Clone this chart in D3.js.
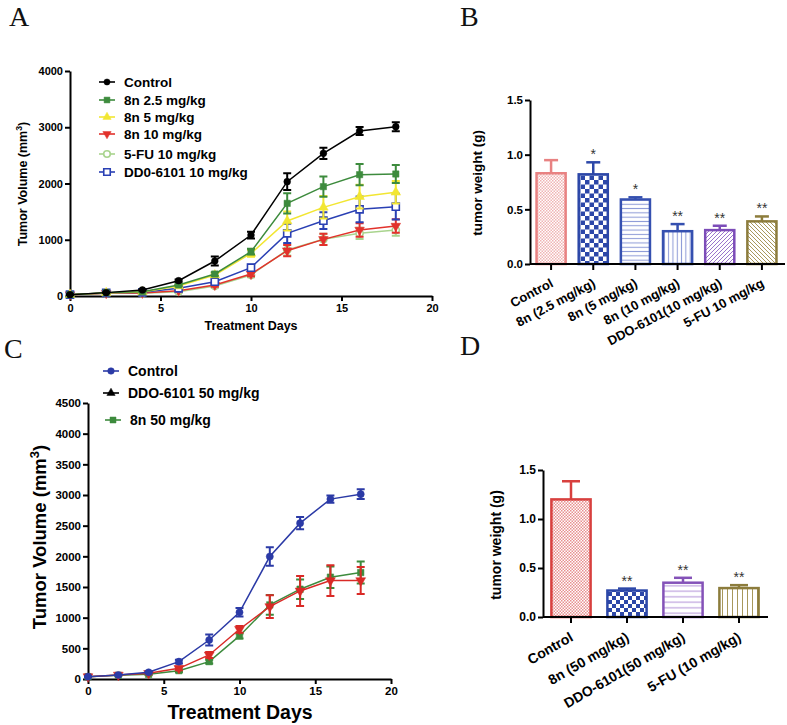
<!DOCTYPE html>
<html>
<head>
<meta charset="utf-8">
<script src="https://cdnjs.cloudflare.com/ajax/libs/d3/7.8.5/d3.min.js"></script>
<style>
  body { margin: 0; background: #fff; }
</style>
</head>
<body>
<div id="plot"></div>
<script>
var FONT = "Arial, 'Liberation Sans', Helvetica, sans-serif";
var SERIF = "'Times New Roman', 'Liberation Serif', serif";

// ---- data ----
var days = [0, 2, 4, 6, 8, 10, 12, 14, 16, 18];

// panel A : tumor volume
var aNames = ["Control", "8n 2.5 mg/kg", "8n 5 mg/kg", "8n 10 mg/kg", "5-FU 10 mg/kg", "DD0-6101 10 mg/kg"];
var aControl    = [24, 60, 107, 272, 622, 1084, 2033, 2536, 2933, 3010];
var aControlErr = [5, 5, 10, 20, 80, 60, 150, 100, 70, 80];
var a8n25       = [24, 60, 77, 196, 391, 788, 1647, 1944, 2157, 2169];
var a8n25Err    = [5, 5, 10, 20, 30, 50, 180, 180, 190, 160];
var a8n5        = [24, 55, 70, 178, 373, 758, 1333, 1576, 1766, 1843];
var a8n5Err     = [5, 5, 10, 20, 30, 60, 170, 200, 210, 200];
var a8n10       = [24, 50, 55, 95, 196, 391, 806, 1007, 1173, 1244];
var a8n10Err    = [5, 5, 10, 15, 30, 40, 100, 100, 120, 120];
var a5fu        = [24, 47, 47, 77, 178, 373, 818, 1007, 1114, 1173];
var a5fuErr     = [5, 5, 10, 15, 30, 40, 100, 100, 100, 100];
var aDdo        = [24, 55, 65, 136, 255, 504, 1114, 1339, 1541, 1588];
var aDdoErr     = [5, 5, 10, 20, 40, 50, 170, 150, 230, 230];

// panel B : tumor weight
var bNames = ["Control", "8n (2.5 mg/kg)", "8n (5 mg/kg)", "8n (10 mg/kg)", "DDO-6101(10 mg/kg)", "5-FU 10 mg/kg"];
var bWeight = [0.83, 0.82, 0.59, 0.30, 0.31, 0.39];
var bErr    = [0.12, 0.11, 0.02, 0.065, 0.04, 0.045];
var bStars  = ["", "*", "*", "**", "**", "**"];

// panel C : tumor volume
var cNames = ["Control", "DDO-6101 50 mg/kg", "8n 50 mg/kg"];
var cControl    = [38, 65, 109, 283, 636, 1088, 1997, 2541, 2933, 3014];
var cControlErr = [5, 5, 15, 30, 90, 70, 150, 100, 60, 80];
var cDdo        = [38, 65, 92, 174, 392, 811, 1181, 1436, 1605, 1605];
var cDdoErr     = [5, 5, 15, 30, 50, 55, 185, 245, 250, 220];
var c8n         = [38, 60, 76, 136, 283, 702, 1208, 1464, 1660, 1736];
var c8nErr      = [5, 5, 10, 20, 30, 40, 160, 160, 175, 180];

// panel D : tumor weight
var dNames = ["Control", "8n (50 mg/kg)", "DDO-6101(50 mg/kg)", "5-FU (10 mg/kg)"];
var dWeight = [1.20, 0.27, 0.35, 0.295];
var dErr    = [0.185, 0.02, 0.05, 0.03];
var dStars  = ["", "**", "**", "**"];

// ---- svg ----
var svg = d3.select("#plot").append("svg")
    .attr("width", 787).attr("height", 725)
    .style("font-family", FONT);

var defs = svg.append("defs");

function addPattern(id, kind, color, s) {
  var p = defs.append("pattern").attr("id", id)
      .attr("patternUnits", "userSpaceOnUse")
      .attr("width", s).attr("height", s);
  p.append("rect").attr("width", s).attr("height", s).attr("fill", "#fff");
  if (kind == "grid" || kind == "checker") {
    p.append("rect").attr("width", s / 2).attr("height", s / 2).attr("fill", color);
    p.append("rect").attr("x", s / 2).attr("y", s / 2).attr("width", s / 2).attr("height", s / 2).attr("fill", color);
  } else if (kind == "hlines") {
    p.append("line").attr("x1", 0).attr("x2", s).attr("y1", s / 2).attr("y2", s / 2)
        .attr("stroke", color).attr("stroke-width", 1);
  } else if (kind == "vlines") {
    p.append("line").attr("y1", 0).attr("y2", s).attr("x1", s / 2).attr("x2", s / 2)
        .attr("stroke", color).attr("stroke-width", 1);
  } else if (kind == "diagR") {
    p.append("path").attr("d", "M0," + s + "L" + s + ",0M-1,1L1,-1M" + (s - 1) + "," + (s + 1) + "L" + (s + 1) + "," + (s - 1))
        .attr("stroke", color).attr("stroke-width", 1);
  } else if (kind == "diagL") {
    p.append("path").attr("d", "M0,0L" + s + "," + s + "M-1," + (s - 1) + "L1," + (s + 1) + "M" + (s - 1) + ",-1L" + (s + 1) + ",1")
        .attr("stroke", color).attr("stroke-width", 1);
  }
}

addPattern("bCtrl", "grid", "#f0b4b4", 3);
addPattern("bChk", "checker", "#2c47a8", 9);
addPattern("bH", "hlines", "#8a98d6", 4.3);
addPattern("bV", "vlines", "#8a98d6", 4.3);
addPattern("bDR", "diagR", "#9a74cc", 4);
addPattern("bDL", "diagL", "#a8985c", 4);
addPattern("dCtrl", "grid", "#e89090", 3);
addPattern("dChk", "checker", "#2c47a8", 8);
addPattern("dH", "hlines", "#b090d8", 5.5);
addPattern("dV", "vlines", "#a8985c", 5);

function styleAxis(sel, fs) {
  sel.attr("font-family", null);
  sel.select(".domain").attr("stroke", "#000").attr("stroke-width", 2);
  sel.selectAll(".tick line").attr("stroke", "#000").attr("stroke-width", 2);
  sel.selectAll(".tick text").attr("fill", "#000")
      .style("font-size", fs + "px").style("font-weight", "bold").style("font-family", FONT);
}

function panelLetter(txt, x, y) {
  svg.append("text").attr("x", x).attr("y", y).text(txt)
      .style("font-family", SERIF).style("font-size", "28px").attr("fill", "#111");
}

function yTitle(x, y, fs, txt, sup) {
  var t = svg.append("text")
      .attr("transform", "translate(" + x + "," + y + ") rotate(-90)")
      .attr("text-anchor", "middle")
      .style("font-size", fs + "px").style("font-weight", "bold");
  t.append("tspan").text(txt);
  if (sup) {
    t.append("tspan").attr("baseline-shift", "super").style("font-size", "70%").text("3");
    t.append("tspan").text(")");
  }
}

function marker(g, shape, cx, cy, color, open, size) {
  var type = shape == "square" ? d3.symbolSquare : (shape == "circle" ? d3.symbolCircle : d3.symbolTriangle);
  var rot = shape == "down" ? 180 : 0;
  g.append("path")
      .attr("d", d3.symbol().type(type).size(size)())
      .attr("transform", "translate(" + cx + "," + cy + ") rotate(" + rot + ")")
      .attr("fill", open ? "#fff" : color)
      .attr("stroke", color)
      .attr("stroke-width", open ? 1.6 : 0.5);
}

function lineChart(series, x, y, cap, lw) {
  var g = svg.append("g");
  var line = d3.line().x(function(d, i) { return x(days[i]); }).y(function(d) { return y(d); });
  series.forEach(function(s) {
    var sg = g.append("g");
    sg.append("path").datum(s.values).attr("d", line)
        .attr("fill", "none").attr("stroke", s.color).attr("stroke-width", lw);
    s.values.forEach(function(v, i) {
      var cx = x(days[i]), top = y(v + s.err[i]), bot = y(v - s.err[i]);
      sg.append("path")
          .attr("d", "M" + cx + "," + top + "V" + bot + "M" + (cx - cap) + "," + top + "H" + (cx + cap) +
                "M" + (cx - cap) + "," + bot + "H" + (cx + cap))
          .attr("fill", "none").attr("stroke", s.color).attr("stroke-width", 2);
      marker(sg, s.shape, cx, y(v), s.color, s.open, s.size);
    });
  });
}

function barChart(names, vals, errs, stars, fills, strokes, x, y, cap, fs) {
  var g = svg.append("g");
  names.forEach(function(n, i) {
    var x0 = x(n), w = x.bandwidth(), cx = x0 + w / 2;
    g.append("line").attr("x1", cx).attr("x2", cx).attr("y1", y(vals[i])).attr("y2", y(vals[i] + errs[i]))
        .attr("stroke", strokes[i]).attr("stroke-width", 2.5);
    g.append("line").attr("x1", cx - cap).attr("x2", cx + cap)
        .attr("y1", y(vals[i] + errs[i])).attr("y2", y(vals[i] + errs[i]))
        .attr("stroke", strokes[i]).attr("stroke-width", 2.5);
    g.append("rect").attr("x", x0).attr("y", y(vals[i]))
        .attr("width", w).attr("height", y(0) - y(vals[i]))
        .attr("fill", "url(#" + fills[i] + ")")
        .attr("stroke", strokes[i]).attr("stroke-width", 2.5);
    if (stars[i]) {
      g.append("text").attr("x", cx).attr("y", y(vals[i] + errs[i]) - 3)
          .attr("text-anchor", "middle").style("font-size", fs + "px").attr("fill", "#333")
          .text(stars[i]);
    }
  });
}

// ================= panel A =================
panelLetter("A", 9, 26);
var xA = d3.scaleLinear().domain([0, 20]).range([70, 432]);
var yA = d3.scaleLinear().domain([0, 4000]).range([296, 71]);

svg.append("g").attr("transform", "translate(0,296)")
    .call(d3.axisBottom(xA).tickValues([0, 5, 10, 15, 20]).tickSize(5).tickSizeOuter(0).tickPadding(3))
    .call(styleAxis, 11);
svg.append("g").attr("transform", "translate(70,0)")
    .call(d3.axisLeft(yA).tickValues([0, 1000, 2000, 3000, 4000]).tickFormat(d3.format("d")).tickSize(5).tickSizeOuter(0).tickPadding(2))
    .call(styleAxis, 11);
svg.append("text").attr("x", 251).attr("y", 330).attr("text-anchor", "middle")
    .style("font-size", "12.5px").style("font-weight", "bold").text("Treatment Days");
yTitle(27, 184, 12.5, "Tumor Volume (mm", true);

var aSeries = [
  {values: a5fu, err: a5fuErr, color: "#a9d48e", shape: "circle", open: true, size: 40},
  {values: a8n10, err: a8n10Err, color: "#e2322c", shape: "down", open: false, size: 40},
  {values: aDdo, err: aDdoErr, color: "#2a40b4", shape: "square", open: true, size: 50},
  {values: a8n5, err: a8n5Err, color: "#f2e632", shape: "up", open: false, size: 40},
  {values: a8n25, err: a8n25Err, color: "#3d8b3d", shape: "square", open: false, size: 40},
  {values: aControl, err: aControlErr, color: "#000", shape: "circle", open: false, size: 36}
];
lineChart(aSeries, xA, yA, 4, 1.5);

var aLeg = [
  {color: "#000", shape: "circle", open: false, size: 30},
  {color: "#3d8b3d", shape: "square", open: false, size: 34},
  {color: "#f2e632", shape: "up", open: false, size: 30},
  {color: "#e2322c", shape: "down", open: false, size: 30},
  {color: "#a9d48e", shape: "circle", open: true, size: 34},
  {color: "#2a40b4", shape: "square", open: true, size: 42}
];
var aLegY = [82, 100, 117, 134, 154, 172];
var lgA = svg.append("g");
aNames.forEach(function(n, i) {
  lgA.append("line").attr("x1", 99).attr("x2", 115).attr("y1", aLegY[i]).attr("y2", aLegY[i])
      .attr("stroke", aLeg[i].color).attr("stroke-width", 1.6);
  marker(lgA, aLeg[i].shape, 107, aLegY[i], aLeg[i].color, aLeg[i].open, aLeg[i].size);
  lgA.append("text").attr("x", 124).attr("y", aLegY[i] + 5)
      .style("font-size", "13.5px").style("font-weight", "bold").text(n);
});

// ================= panel B =================
panelLetter("B", 460, 26);
var xB = d3.scaleBand().domain(bNames).range([530, 783]).paddingInner(0.31).paddingOuter(0.155);
var yB = d3.scaleLinear().domain([0, 1.5]).range([264, 100]);

barChart(bNames, bWeight, bErr, bStars,
    ["bCtrl", "bChk", "bH", "bV", "bDR", "bDL"],
    ["#e88282", "#2c47a8", "#3550b0", "#3550b0", "#7c4cb8", "#8c7c3c"],
    xB, yB, 7, 14);

var gxB = svg.append("g").attr("transform", "translate(0,264)")
    .call(d3.axisBottom(xB).tickSize(6).tickSizeOuter(0).tickFormat(""))
    .call(styleAxis, 11);
gxB.select(".domain").attr("d", "M530,0H785");
svg.append("g").attr("transform", "translate(530,0)")
    .call(d3.axisLeft(yB).tickValues([0, 0.5, 1, 1.5]).tickFormat(d3.format(".1f")).tickSize(5).tickSizeOuter(0).tickPadding(2))
    .call(styleAxis, 11.5);
bNames.forEach(function(n) {
  svg.append("text")
      .attr("transform", "translate(" + (xB(n) + xB.bandwidth() / 2 + 3) + ",286) rotate(-28)")
      .attr("text-anchor", "end")
      .style("font-size", "13px").style("font-weight", "bold").text(n);
});
yTitle(482, 183, 13.5, "tumor weight (g)", false);

// ================= panel C =================
panelLetter("C", 4, 358);
var xC = d3.scaleLinear().domain([0, 20]).range([88, 391]);
var yC = d3.scaleLinear().domain([0, 4500]).range([679, 403]);

svg.append("g").attr("transform", "translate(0,679)")
    .call(d3.axisBottom(xC).tickValues([0, 5, 10, 15, 20]).tickSize(5).tickSizeOuter(0).tickPadding(3))
    .call(styleAxis, 11.5);
svg.append("g").attr("transform", "translate(88,0)")
    .call(d3.axisLeft(yC).tickValues(d3.range(0, 4501, 500)).tickFormat(d3.format("d")).tickSize(5).tickSizeOuter(0).tickPadding(2))
    .call(styleAxis, 11.5);
svg.append("text").attr("x", 240).attr("y", 719).attr("text-anchor", "middle")
    .style("font-size", "19.5px").style("font-weight", "bold").text("Treatment Days");
yTitle(46, 537, 18.5, "Tumor Volume (mm", true);

var cSeries = [
  {values: c8n, err: c8nErr, color: "#3d8b3d", shape: "square", open: false, size: 42},
  {values: cDdo, err: cDdoErr, color: "#d92a26", shape: "down", open: false, size: 42},
  {values: cControl, err: cControlErr, color: "#2b3aa6", shape: "circle", open: false, size: 40}
];
lineChart(cSeries, xC, yC, 4, 1.5);

var cLeg = [
  {color: "#2b3aa6", shape: "circle", size: 34, x1: 103, x2: 119, tx: 128},
  {color: "#000", shape: "up", size: 30, x1: 103, x2: 119, tx: 128},
  {color: "#3d8b3d", shape: "square", size: 36, x1: 105, x2: 121, tx: 130}
];
var cLegY = [371, 393, 420];
var lgC = svg.append("g");
cNames.forEach(function(n, i) {
  var l = cLeg[i];
  lgC.append("line").attr("x1", l.x1).attr("x2", l.x2).attr("y1", cLegY[i]).attr("y2", cLegY[i])
      .attr("stroke", l.color).attr("stroke-width", 1.6);
  marker(lgC, l.shape, (l.x1 + l.x2) / 2, cLegY[i], l.color, false, l.size);
  lgC.append("text").attr("x", l.tx).attr("y", cLegY[i] + 5)
      .style("font-size", "14px").style("font-weight", "bold").text(n);
});

// ================= panel D =================
panelLetter("D", 460, 355);
var xD = d3.scaleBand().domain(dNames).range([543, 767]).paddingInner(0.3).paddingOuter(0.15);
var yD = d3.scaleLinear().domain([0, 1.5]).range([617, 470]);

barChart(dNames, dWeight, dErr, dStars,
    ["dCtrl", "dChk", "dH", "dV"],
    ["#d8403e", "#2c47a8", "#8452b8", "#8c7c3c"],
    xD, yD, 9, 14);

var gxD = svg.append("g").attr("transform", "translate(0,617)")
    .call(d3.axisBottom(xD).tickSize(6).tickSizeOuter(0).tickFormat(""))
    .call(styleAxis, 12);
gxD.select(".domain").attr("d", "M543,0H768");
svg.append("g").attr("transform", "translate(543,0)")
    .call(d3.axisLeft(yD).tickValues([0, 0.5, 1, 1.5]).tickFormat(d3.format(".1f")).tickSize(5).tickSizeOuter(0).tickPadding(2))
    .call(styleAxis, 12);
dNames.forEach(function(n) {
  svg.append("text")
      .attr("transform", "translate(" + (xD(n) + xD.bandwidth() / 2 + 3) + ",640) rotate(-30)")
      .attr("text-anchor", "end")
      .style("font-size", "14px").style("font-weight", "bold").text(n);
});
yTitle(501, 545, 14, "tumor weight (g)", false);
</script>
</body>
</html>
